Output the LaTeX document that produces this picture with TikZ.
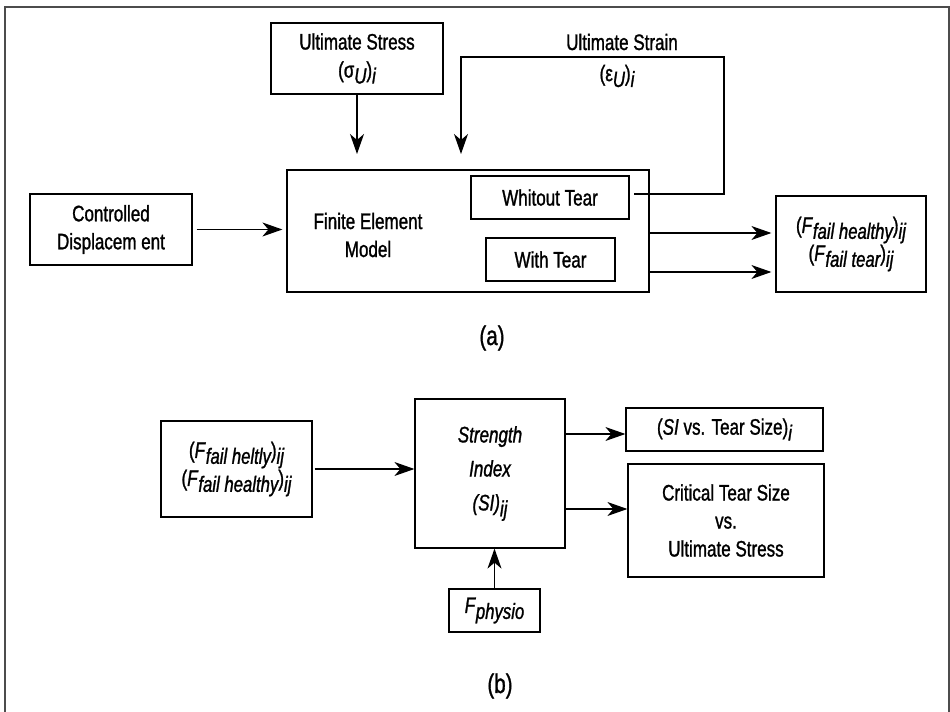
\documentclass[tikz,border=0pt]{standalone}
\usepackage{fontspec}
\setmainfont{Liberation Sans}[FakeStretch=0.76,FakeBold=1.2]
\usetikzlibrary{arrows.meta,calc}

\newcommand{\lowsub}[1]{\raisebox{-0.5ex}{\fontsize{11}{12}\selectfont\itshape #1}}

\tikzset{
  block/.style={draw, line width=0.6pt, inner sep=0pt, align=center},
  link/.style={line width=0.6pt, -{Stealth[length=10pt,width=7pt,inset=3pt]}},
  caption/.style={font=\fontsize{13.5}{15}\selectfont},
}

\begin{document}
\begin{tikzpicture}[x=0.5pt,y=-0.5pt,font=\fontsize{11.2}{14}\selectfont]
\useasboundingbox (0,0) rectangle (950,712);
\draw[line width=1pt, black!70] (5,712) -- (5,7) -- (949,7) -- (949,712); % frame

% ---- (a) ----
\node (stress) [block, minimum width=86pt, minimum height=35.5pt] at (357,58.5) {Ultimate Stress\\(σ\lowsub{U})\lowsub{i}};
\node (displ) [block, minimum width=81pt, minimum height=35.5pt] at (111,229.5) {Controlled\\Displacem ent};
\node (fem) [block, minimum width=181pt, minimum height=61pt] at (468,231) {};
\node (femtext) [align=center] at (368,235) {Finite Element\\Model};
\node (notear) [block, minimum width=79pt, minimum height=21.5pt] at (550,197.5) {Whitout Tear};
\node (withtear) [block, minimum width=64.5pt, minimum height=21.5pt] at (550.5,259.5) {With Tear};
\node (fail) [block, minimum width=75pt, minimum height=48pt] at (851,244) {(\textit{F}\lowsub{fail healthy})\lowsub{ij}\\(\textit{F}\lowsub{fail tear})\lowsub{ij}};
\node (strain) at (622,42) {Ultimate Strain};
\node (eps) at (617,76) {(ε\lowsub{U})\lowsub{i}};
\node (capa) [caption] at (492,338) {(a)};

\coordinate (strainin) at (461,154);
\coordinate (strainout) at (634,194);
\coordinate (straintop) at (724,57);
\coordinate (o1) at ($(fem.east)+(0,2)$);
\coordinate (o2) at ($(fem.east)+(0,41)$);

\draw[link] (stress.south) -- (stress.south |- strainin);
\draw[link] (strainout) -| (straintop) -| (strainin); % ultimate strain
\draw[link, shorten <=2pt, shorten >=2pt] (displ.east) -- (displ.east -| fem.west);
\draw[link, shorten >=2pt] (o1) -- (o1 -| fail.west);
\draw[link, shorten >=2pt] (o2) -- (o2 -| fail.west);

% ---- (b) ----
\node (failin) [block, minimum width=75.5pt, minimum height=48pt] at (236.5,469) {(\textit{F}\lowsub{fail heltly})\lowsub{ij}\\(\textit{F}\lowsub{fail healthy})\lowsub{ij}};
\node (si) [block, minimum width=75pt, minimum height=74.5pt, font=\fontsize{11.2}{17}\selectfont\itshape] at (490,473.5) {Strength\\Index\\(SI)\lowsub{ij}};
\node (physio) [block, minimum width=45.5pt, minimum height=21.5pt] at (494.5,610.5) {\textit{F}\lowsub{physio}};
\node (sivs) [block, minimum width=98.5pt, minimum height=21.5pt] at (724.5,429.5) {(\textit{SI} vs. Tear Size)\lowsub{i}};
\node (crit) [block, minimum width=98pt, minimum height=56.5pt] at (726,520.5) {Critical Tear Size\\vs.\\Ultimate Stress};
\node (capb) [caption] at (500,686) {(b)};

\coordinate (s1) at ($(si.east)+(0,-39.5)$);
\coordinate (s2) at ($(si.east)+(0,35.5)$);

\draw[link, shorten <=1pt] (failin.east) -- (failin.east -| si.west);
\draw[link] (physio.north) -- (physio.north |- si.south);
\draw[link] (s1) -- (s1 -| sivs.west);
\draw[link] (s2) -- (s2 -| crit.west);

\end{tikzpicture}
\end{document}
